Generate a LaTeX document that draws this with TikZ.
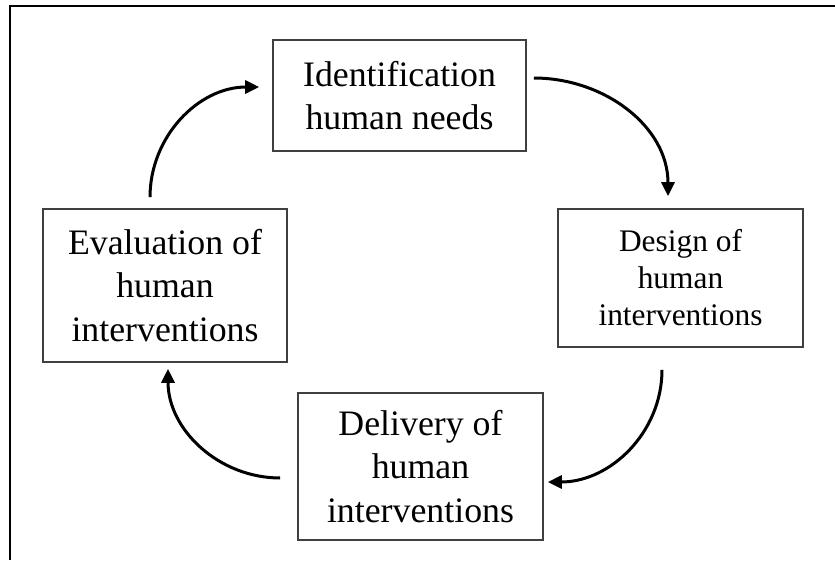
\documentclass[tikz,border=0pt]{standalone}
\usepackage{fontspec}
\setmainfont{Liberation Serif}
\usetikzlibrary{arrows.meta}
\begin{document}
\begin{tikzpicture}[x=1pt,y=-1pt,
  stagebox/.style={draw=black!75, line width=1.6pt, align=center, inner sep=0pt,
    font=\fontsize{35.8}{43.5}\selectfont},
  flowarrow/.style={line width=3pt, -{Triangle[length=14pt,width=13pt]}, black},
  framebar/.style={line width=2.8pt, black}]
\useasboundingbox (0,0) rectangle (835,560);
% outer frame (top and left edges only visible)
\draw[framebar] (835,6) -- (10,6) -- (10,560);
% stages
\node[stagebox, minimum width=253pt, minimum height=111pt] (idn) at (399.5,95.5)
  {Identification\\human needs};
\node[stagebox, minimum width=245pt, minimum height=138pt,
  font=\fontsize{31.4}{37}\selectfont] (des) at (680.5,278)
  {Design of\\human\\interventions};
\node[stagebox, minimum width=245pt, minimum height=147pt] (del) at (420.5,466.5)
  {Delivery of\\human\\interventions};
\node[stagebox, minimum width=244pt, minimum height=153pt] (eva) at (165,285.5)
  {Evaluation of\\human\\interventions};
% cycle arrows
\draw[flowarrow] ([shift={(7,-17.5)}]idn.east) to[out=0,in=90,looseness=1.0] ([shift={(-12.5,-12)}]des.north);
\draw[flowarrow] ([shift={(-18.5,22)}]des.south) to[out=-90,in=0,looseness=1.0] ([shift={(4,15.5)}]del.east);
\draw[flowarrow] ([shift={(-17,11.5)}]del.west) to[out=180,in=-90,looseness=1.0] ([shift={(3,6)}]eva.south);
\draw[flowarrow] ([shift={(-15,-11)}]eva.north) to[out=90,in=180,looseness=1.0] ([shift={(-13,-8.5)}]idn.west);
\end{tikzpicture}
\end{document}
